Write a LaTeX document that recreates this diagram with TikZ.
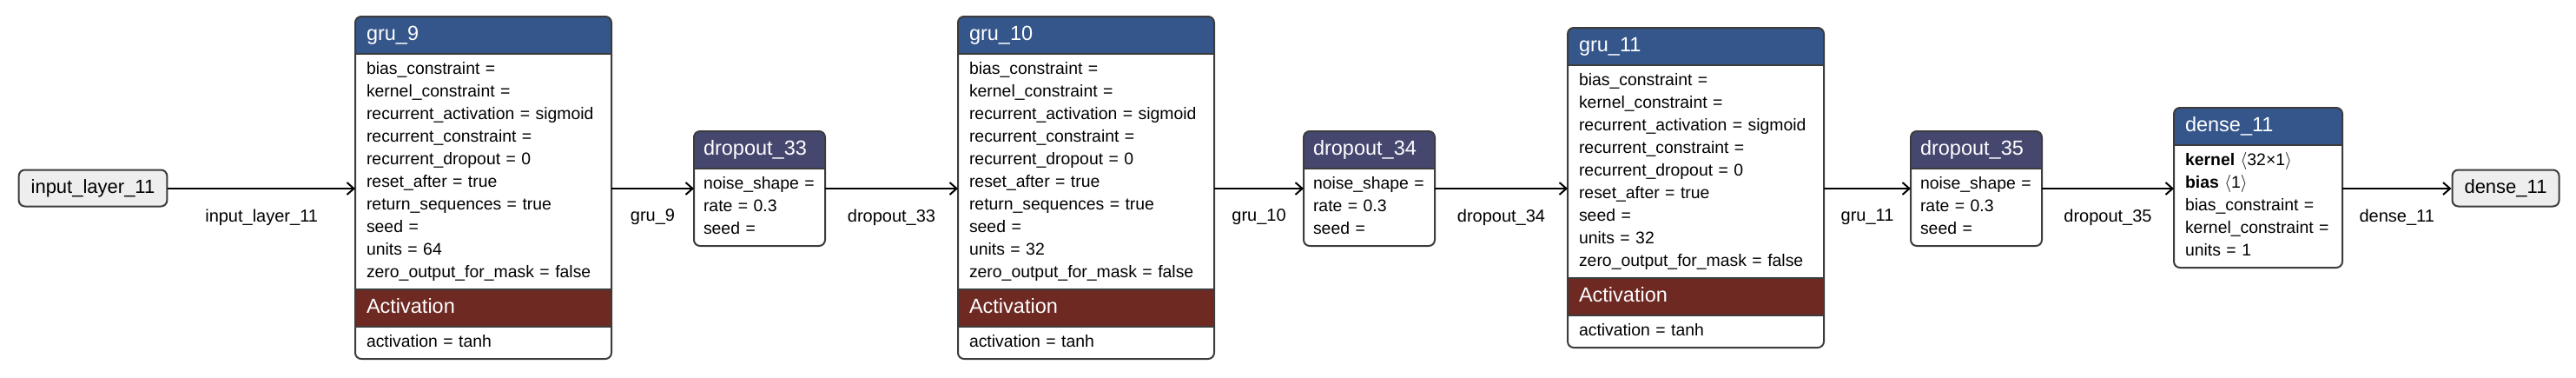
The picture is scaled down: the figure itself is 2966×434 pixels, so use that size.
\documentclass[tikz,border=0pt]{standalone}
\usepackage{fontspec}
\setmainfont{Liberation Sans}
\usetikzlibrary{arrows.meta,positioning,backgrounds}
\definecolor{gruhead}{HTML}{34568B}
\definecolor{drophead}{HTML}{46476F}
\definecolor{actband}{HTML}{6D2922}
\definecolor{framegray}{HTML}{3C3C3C}
\definecolor{iogray}{HTML}{EEEEEE}
\newcommand{\headfont}{\fontsize{11.75}{14}\selectfont}
\newcommand{\parmfont}{\fontsize{9.7}{13}\selectfont}

\begin{document}
\begin{tikzpicture}[x=0.5pt,y=-0.5pt,
hdr/.style={anchor=north west,text width=#1,minimum height=21.5pt,inner xsep=6.5pt,inner ysep=0pt,outer sep=0pt,align=left,text=white,font=\headfont,execute at begin node=\strut},
parm/.style={text width=#1,inner xsep=6.5pt,inner ysep=2.75pt,outer sep=0pt,align=left,font=\parmfont,execute at begin node=\strut,execute at end node=\strut},
band/.style={hdr=#1,fill=actband},
drop/.style={inner xsep=5.5pt},
io/.style={draw=framegray,fill=iogray,line width=1pt,rounded corners=3.5pt,minimum height=21pt,inner xsep=7pt,font=\fontsize{11}{13}\selectfont},
boxframe/.style={draw=framegray,line width=1pt,rounded corners=3.5pt},
divider/.style={draw=framegray,line width=1pt},
link/.style={draw=black,line width=1pt,-{Straight Barb[length=4pt,width=7pt]}},
elabel/.style={midway,yshift=-16.5pt,font=\fontsize{10}{12}\selectfont}]
\useasboundingbox (0,0) rectangle (2966,434);
\coordinate (row) at (0,217);
\node[io] (input) at (107,216.5) {input\_layer\_11};
\node[hdr=134.5pt] (gru9) at (409,19) {gru\_9};
\node[parm=134.5pt,below=0pt of gru9] (gru9p) {bias\_constraint =\\kernel\_constraint =\\recurrent\_activation = sigmoid\\recurrent\_constraint =\\recurrent\_dropout = 0\\reset\_after = true\\return\_sequences = true\\seed =\\units = 64\\zero\_output\_for\_mask = false};
\node[band=134.5pt,below=0pt of gru9p] (gru9a) {Activation};
\node[parm=134.5pt,below=0pt of gru9a] (gru9ap) {activation = tanh};
\node[hdr=64.5pt,drop] (drop33) at (799,151) {dropout\_33};
\node[parm=64.5pt,drop,below=0pt of drop33] (drop33p) {noise\_shape =\\rate = 0.3\\seed =};
\node[hdr=134.5pt] (gru10) at (1103,19) {gru\_10};
\node[parm=134.5pt,below=0pt of gru10] (gru10p) {bias\_constraint =\\kernel\_constraint =\\recurrent\_activation = sigmoid\\recurrent\_constraint =\\recurrent\_dropout = 0\\reset\_after = true\\return\_sequences = true\\seed =\\units = 32\\zero\_output\_for\_mask = false};
\node[band=134.5pt,below=0pt of gru10p] (gru10a) {Activation};
\node[parm=134.5pt,below=0pt of gru10a] (gru10ap) {activation = tanh};
\node[hdr=64.5pt,drop] (drop34) at (1501,151) {dropout\_34};
\node[parm=64.5pt,drop,below=0pt of drop34] (drop34p) {noise\_shape =\\rate = 0.3\\seed =};
\node[hdr=134.5pt] (gru11) at (1805,32) {gru\_11};
\node[parm=134.5pt,below=0pt of gru11] (gru11p) {bias\_constraint =\\kernel\_constraint =\\recurrent\_activation = sigmoid\\recurrent\_constraint =\\recurrent\_dropout = 0\\reset\_after = true\\seed =\\units = 32\\zero\_output\_for\_mask = false};
\node[band=134.5pt,below=0pt of gru11p] (gru11a) {Activation};
\node[parm=134.5pt,below=0pt of gru11a] (gru11ap) {activation = tanh};
\node[hdr=64.5pt,drop] (drop35) at (2200,151) {dropout\_35};
\node[parm=64.5pt,drop,below=0pt of drop35] (drop35p) {noise\_shape =\\rate = 0.3\\seed =};
\node[hdr=84pt] (dense11) at (2503,124) {dense\_11};
\node[parm=84pt,below=0pt of dense11] (dense11p) {\textbf{kernel}~$\langle$32×1$\rangle$\\\textbf{bias}~$\langle$1$\rangle$\\bias\_constraint =\\kernel\_constraint =\\units = 1};
\node[io] (output) at (2885,216.5) {dense\_11};
\begin{scope}[on background layer]
\foreach \n/\c in {gru9/gruhead,drop33/drophead,gru10/gruhead,drop34/drophead,gru11/gruhead,drop35/drophead,dense11/gruhead}{
  \fill[\c,rounded corners=3.5pt] (\n.north west) rectangle (\n.south east);
  \fill[\c] (\n.west) rectangle (\n.south east);
}
\end{scope}
\foreach \h/\b in {gru9/gru9ap,drop33/drop33p,gru10/gru10ap,drop34/drop34p,gru11/gru11ap,drop35/drop35p,dense11/dense11p}{
  \draw[boxframe] (\h.north west) rectangle (\b.south east);
  \draw[divider] (\h.south west) -- (\h.south east);
}
\foreach \a in {gru9a,gru10a,gru11a}
  \draw[divider] (\a.north west) -- (\a.north east) (\a.south west) -- (\a.south east);
\draw[link] (row -| input.east) -- (row -| gru9p.west) node[elabel] {input\_layer\_11};
\draw[link] (row -| gru9p.east) -- (row -| drop33p.west) node[elabel] {gru\_9};
\draw[link] (row -| drop33p.east) -- (row -| gru10p.west) node[elabel] {dropout\_33};
\draw[link] (row -| gru10p.east) -- (row -| drop34p.west) node[elabel] {gru\_10};
\draw[link] (row -| drop34p.east) -- (row -| gru11p.west) node[elabel] {dropout\_34};
\draw[link] (row -| gru11p.east) -- (row -| drop35p.west) node[elabel] {gru\_11};
\draw[link] (row -| drop35p.east) -- (row -| dense11p.west) node[elabel] {dropout\_35};
\draw[link] (row -| dense11p.east) -- (row -| output.west) node[elabel] {dense\_11};
\end{tikzpicture}
\end{document}
